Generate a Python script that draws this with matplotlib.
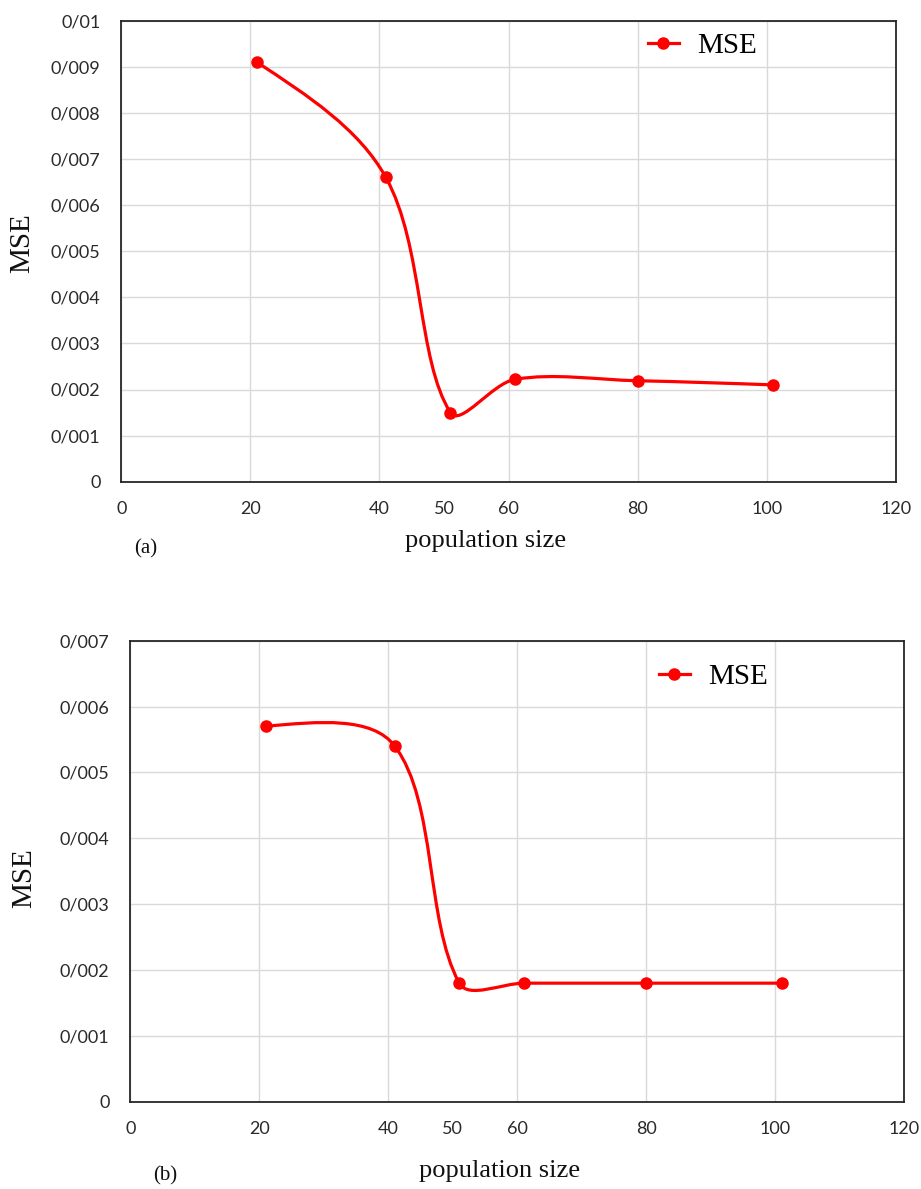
import matplotlib
matplotlib.use("Agg")
import matplotlib.pyplot as plt
import numpy as np
from matplotlib.path import Path
from matplotlib.patches import PathPatch
from matplotlib.lines import Line2D
from matplotlib.ticker import FixedLocator, FuncFormatter

# ---- data ----
pop_size = [21, 41, 51, 61, 80, 101]
mse_a = [0.0091, 0.0066, 0.0015, 0.00222, 0.00219, 0.0021]
mse_b = [0.0057, 0.0054, 0.0018, 0.0018, 0.0018, 0.0018]
x_major_ticks = [0, 20, 40, 60, 80, 100, 120]
x_extra_tick = [50]
y_ticks_a = [0, 0.001, 0.002, 0.003, 0.004, 0.005, 0.006, 0.007, 0.008, 0.009, 0.01]
y_ticks_b = [0, 0.001, 0.002, 0.003, 0.004, 0.005, 0.006, 0.007]

W, H = 921, 1189
fig = plt.figure(figsize=(W / 100, H / 100), dpi=100)

RED = "#ff0000"
TICK_COLOR = "#2a2a2a"
TICK_FONT = "Lato"
SERIF = "Liberation Serif"


def ytick_fmt(v, pos):
    if abs(v) < 1e-12:
        return "0"
    s = ("%.3f" % v).rstrip("0")
    return s.replace(".", "/")


def smooth_path(ax, xs, ys):
    # Excel-like smoothed line: cubic Bezier segments whose control points
    # are computed in display space, split by neighbouring segment lengths.
    pts = ax.transData.transform(np.column_stack([xs, ys]))
    n = len(pts)

    def ctrl(i):
        p = pts[i]
        prev = pts[i - 1]
        nxt = pts[i + 1]
        d0 = np.hypot(*(p - prev))
        d1 = np.hypot(*(nxt - p))
        tot = d0 + d1
        tan = nxt - prev
        before = p - tan * (d0 / tot) / 3.0
        after = p + tan * (d1 / tot) / 3.0
        return before, after

    inner = {i: ctrl(i) for i in range(1, n - 1)}
    verts = [pts[0]]
    codes = [Path.MOVETO]
    for i in range(n - 1):
        c1 = inner[i][1] if i in inner else None
        c2 = inner[i + 1][0] if (i + 1) in inner else None
        if c1 is None:
            c1 = pts[i] + (c2 - pts[i]) / 2.0
        if c2 is None:
            c2 = pts[i + 1] + (c1 - pts[i + 1]) / 2.0
        verts += [c1, c2, pts[i + 1]]
        codes += [Path.CURVE4] * 3
    verts = ax.transData.inverted().transform(np.array(verts))
    return Path(verts, codes)


def make_panel(rect_px, ys, yticks, legend_px, ylab_px, xlab_px, tag, tag_px):
    l, t, r, b = rect_px
    ax = fig.add_axes([l / W, 1 - b / H, (r - l) / W, (b - t) / H])
    ax.set_xlim(0, 120)
    ax.set_ylim(yticks[0], yticks[-1])
    ax.xaxis.set_major_locator(FixedLocator(x_major_ticks))
    ax.xaxis.set_minor_locator(FixedLocator(x_extra_tick))
    ax.xaxis.set_minor_formatter(FuncFormatter(lambda v, p: "%d" % v))
    ax.yaxis.set_major_locator(FixedLocator(yticks))
    ax.yaxis.set_major_formatter(FuncFormatter(ytick_fmt))
    ax.grid(True, which="major", color="#d9d9d9", linewidth=1.0)
    ax.set_axisbelow(True)
    ax.tick_params(which="both", length=0, labelsize=13, labelcolor=TICK_COLOR)
    ax.tick_params(axis="x", which="both", pad=14)
    ax.tick_params(axis="y", pad=15)
    for lab in ax.get_xticklabels(which="both") + ax.get_yticklabels():
        lab.set_fontfamily(TICK_FONT)
    for sp in ax.spines.values():
        sp.set_color("#262626")
        sp.set_linewidth(1.3)

    patch = PathPatch(smooth_path(ax, pop_size, ys), facecolor="none",
                      edgecolor=RED, linewidth=2.3, zorder=3)
    ax.add_patch(patch)
    ax.plot(pop_size, ys, linestyle="none", marker="o", color=RED,
            markersize=8, zorder=4)

    handle = Line2D([], [], color=RED, linewidth=2.3, marker="o", markersize=8)
    lx, ly = legend_px
    ax.legend([handle], ["MSE"], loc="center left",
              bbox_to_anchor=((lx - l) / (r - l), (b - ly) / (b - t)),
              frameon=False, prop={"family": SERIF, "size": 21},
              handlelength=1.05, handletextpad=0.65, borderpad=0, borderaxespad=0)

    fig.text(ylab_px[0] / W, 1 - ylab_px[1] / H, "MSE", rotation=90,
             ha="center", va="center", family=SERIF, size=21, color="#111111")
    fig.text(xlab_px[0] / W, 1 - xlab_px[1] / H, "population size",
             ha="center", va="center", family=SERIF, size=19, color="#111111")
    fig.text(tag_px[0] / W, 1 - tag_px[1] / H, tag,
             ha="center", va="center", family=SERIF, size=15, color="#111111")
    return ax


make_panel((121.3, 20.7, 895.7, 481.7), mse_a, y_ticks_a,
           legend_px=(648, 46), ylab_px=(22, 243), xlab_px=(486, 541),
           tag="(a)", tag_px=(146, 549))
make_panel((130.3, 640.7, 904.3, 1101.7), mse_b, y_ticks_b,
           legend_px=(659, 677), ylab_px=(24, 878), xlab_px=(500, 1171),
           tag="(b)", tag_px=(165, 1176))

fig.savefig("out.png", dpi=100)
